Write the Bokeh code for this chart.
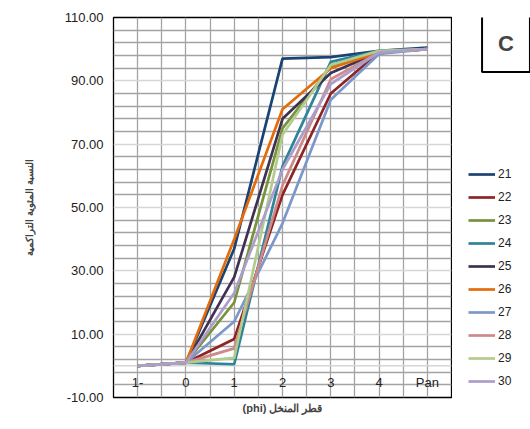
import numpy as np
from bokeh.plotting import figure
from bokeh.layouts import row
from bokeh.models import (Legend, LegendItem, FixedTicker, PrintfTickFormatter,
                          Grid, Span, Label, Range1d)
from bokeh.core.properties import value
from bokeh.embed import file_html
from bokeh.resources import INLINE

# ---- data ----
categories = ["1-", "0", "1", "2", "3", "4", "Pan"]
cat_pos = [-1, 0, 1, 2, 3, 4, 5]

series_names = ["21", "22", "23", "24", "25", "26", "27", "28", "29", "30"]
s21 = [0, 1, 37.0, 97.0, 97.5, 99.5, 100.5]
s22 = [0, 1, 8.5, 54.0, 86.0, 99.0, 100.0]
s23 = [0, 1, 20.0, 75.0, 94.5, 99.0, 100.0]
s24 = [0, 1, 0.5, 63.0, 96.0, 99.5, 100.0]
s25 = [0, 1, 28.0, 78.0, 92.5, 99.0, 100.0]
s26 = [0, 1, 40.0, 81.0, 94.0, 99.0, 100.0]
s27 = [0, 1, 14.0, 45.0, 84.0, 98.5, 100.0]
s28 = [0, 1, 5.5, 57.0, 90.5, 99.0, 100.0]
s29 = [0, 1, 2.5, 73.0, 95.0, 99.5, 100.0]
s30 = [0, 1, 23.0, 62.0, 89.0, 99.0, 100.0]
series_values = [s21, s22, s23, s24, s25, s26, s27, s28, s29, s30]

colors = ["#1A4275", "#8E2424", "#77933C", "#2E8499", "#3F3151",
          "#E46C0A", "#7A98C9", "#CC8A89", "#B3CC8E", "#AC9DCB"]

y_tick_labels = [-10, 10, 30, 50, 70, 90, 110]
panel_tag = "C"

FONT = "Liberation Sans"

# ---- main figure ----
p = figure(width=452, height=427, x_range=(-1.5, 5.5), y_range=(-10, 110),
           output_backend="svg", toolbar_location=None,
           min_border_left=113, min_border_right=1,
           min_border_top=17, min_border_bottom=30)
p.background_fill_color = "white"
p.border_fill_color = "white"
p.outline_line_color = "black"
p.outline_line_width = 1.3

# grids
p.xgrid.ticker = FixedTicker(ticks=list(np.arange(-1.5, 5.51, 0.5)))
p.xgrid.grid_line_color = "#A3A3A3"
p.xgrid.grid_line_width = 1.3
major_y = [10, 30, 50, 70, 90]
minor_y = [v for v in range(-10, 111, 4) if v not in major_y]
p.ygrid.ticker = FixedTicker(ticks=minor_y)
p.ygrid.grid_line_color = "#A3A3A3"
p.ygrid.grid_line_width = 1.3
p.add_layout(Grid(dimension=1, ticker=FixedTicker(ticks=major_y),
                  grid_line_color="#D6D6D6", grid_line_width=1.3))
p.add_layout(Span(location=0, dimension="width", line_color="#D6D6D6",
                  line_width=1.5, level="underlay"))

# y axis
p.yaxis.ticker = FixedTicker(ticks=y_tick_labels)
p.yaxis.formatter = PrintfTickFormatter(format="%.2f")
p.yaxis.major_tick_line_color = None
p.yaxis.major_tick_out = 0
p.yaxis.major_tick_in = 0
p.yaxis.minor_tick_line_color = None
p.yaxis.axis_line_color = None
p.yaxis.major_label_standoff = 10
p.yaxis.major_label_text_font = FONT
p.yaxis.major_label_text_font_size = "13px"
p.yaxis.major_label_text_color = "#222222"
p.yaxis.axis_label = "النسبة المئوية التراكمية"
p.yaxis.axis_label_text_font = FONT
p.yaxis.axis_label_text_font_style = "bold"
p.yaxis.axis_label_text_font_size = "10px"
p.yaxis.axis_label_standoff = 27

# x axis (category labels drawn inside the frame, as in the reference)
p.xaxis.ticker = FixedTicker(ticks=[])
p.xaxis.axis_line_color = None
p.xaxis.major_tick_line_color = None
p.xaxis.major_tick_out = 0
p.xaxis.major_tick_in = 0
p.xaxis.major_label_standoff = 0
p.xaxis.minor_tick_line_color = None
p.xaxis.axis_label = "(phi) قطر المنخل"
p.xaxis.axis_label_text_font = FONT
p.xaxis.axis_label_text_font_style = "bold"
p.xaxis.axis_label_text_font_size = "11px"
p.xaxis.axis_label_standoff = 4

p.text(x=cat_pos, y=[-5.3] * len(cat_pos), text=categories,
       text_font=value(FONT), text_font_size="13px",
       text_align="center", text_baseline="middle", text_color="#222222")

# series
for vals, c in zip(series_values, colors):
    p.line(cat_pos, vals, line_color=c, line_width=2.7)

# ---- side figure: legend + panel tag ----
p2 = figure(width=78, height=427, x_range=Range1d(0, 1), y_range=Range1d(0, 1),
            output_backend="svg", toolbar_location=None,
            min_border_left=0, min_border_right=0,
            min_border_top=17, min_border_bottom=30,
            x_axis_location=None, y_axis_location=None)
p2.outline_line_color = None
p2.xgrid.visible = False
p2.ygrid.visible = False
p2.background_fill_color = "white"
p2.border_fill_color = "white"

items = []
for name, c in zip(series_names, colors):
    # legend swatch only: a renderer with no drawable point
    r = p2.line(x=[np.nan], y=[np.nan], line_color=c, line_width=2.7)
    items.append(LegendItem(label=name, renderers=[r]))

legend = Legend(items=items, location=(16, 6), orientation="vertical",
                glyph_width=27, glyph_height=20, label_height=20, spacing=3,
                padding=0, margin=0, label_standoff=3,
                border_line_color=None, background_fill_alpha=0,
                label_text_font=FONT, label_text_font_size="12px",
                label_text_color="#222222")
p2.add_layout(legend)

tag = Label(x=53.5, y=354, x_units="screen", y_units="screen", text=panel_tag,
            text_font=FONT, text_font_style="bold",
            text_font_size="22px", text_align="center", text_baseline="middle",
            border_line_color="black", border_line_width=2, padding=16,
            background_fill_color="white")
p2.add_layout(tag)

layout = row(p, p2, spacing=0)
open("out.html", "w").write(file_html(layout, INLINE))
